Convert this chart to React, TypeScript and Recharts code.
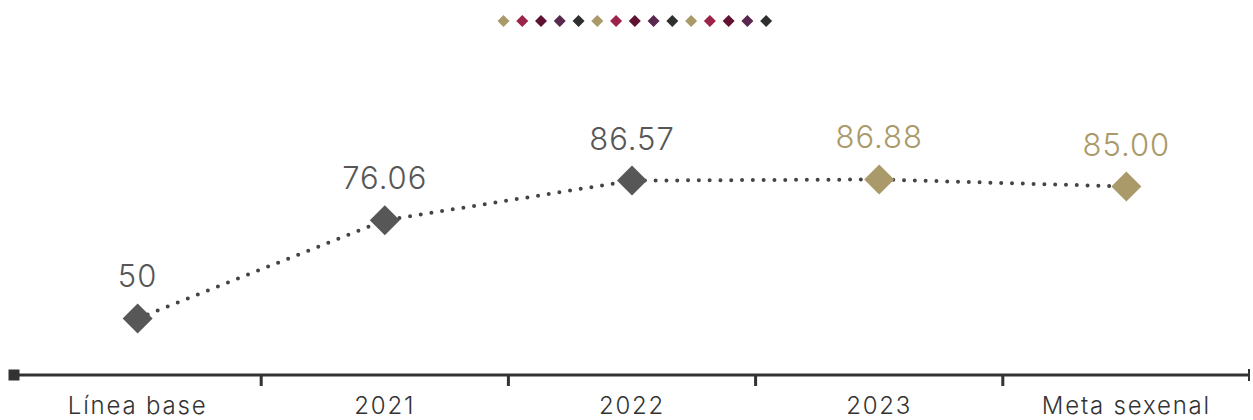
import React from 'react';
import { LineChart, Line, XAxis, YAxis, LabelList } from 'recharts';

const categories = ['Línea base', '2021', '2022', '2023', 'Meta sexenal'];
const values = [50, 76.06, 86.57, 86.88, 85.0];
const valueLabels = ['50', '76.06', '86.57', '86.88', '85.00'];
const statuses = ['historico', 'historico', 'historico', 'reciente', 'meta'];
const categoryTicks = [0, 1, 2, 3, 4];
const boundaryTicks = [-0.5, 0.5, 1.5, 2.5, 3.5, 4.5];
const decorColors = ['#AA9A69', '#9C2349', '#611232', '#58284F', '#2F2F2F'];
const decorRepeats = 3;

const GRAY = '#575757';
const GOLD = '#AA9A69';
const FONT = 'Inter, "Noto Sans", sans-serif';

const colorFor = (status: string) => (status === 'historico' ? GRAY : GOLD);

const data = categories.map((name, i) => ({
  idx: i,
  name,
  value: values[i],
  label: valueLabels[i],
  status: statuses[i],
}));

const allTicks = [...boundaryTicks, ...categoryTicks].sort((a, b) => a - b);

const AxisTick = (props: any) => {
  const { x, y, payload } = props;
  const v = payload.value as number;
  if (Number.isInteger(v)) {
    return (
      <text x={x} y={y + 39} textAnchor="middle" fontSize={24} fontFamily={FONT} fontWeight={300} letterSpacing={1.8} fill="#333">
        {categories[v]}
      </text>
    );
  }
  if (v === boundaryTicks[0]) {
    return <rect x={x - 5.5} y={y - 5.5} width={11} height={11} fill="#333" />;
  }
  if (v === boundaryTicks[boundaryTicks.length - 1]) {
    return <line x1={x - 1} y1={y - 6} x2={x - 1} y2={y + 6} stroke="#333" strokeWidth={2} />;
  }
  return <line x1={x} y1={y} x2={x} y2={y + 11} stroke="#333" strokeWidth={3} />;
};

const Diamond = (props: any) => {
  const { cx, cy, payload } = props;
  if (cx == null || cy == null) return null;
  const r = 15;
  return (
    <path
      d={`M${cx},${cy - r}L${cx + r},${cy}L${cx},${cy + r}L${cx - r},${cy}Z`}
      fill={colorFor(payload.status)}
    />
  );
};

const ValueLabel = (props: any) => {
  const { x, y, value, index } = props;
  return (
    <text x={x} y={y - 31} textAnchor="middle" fontSize={31} fontFamily={FONT} fontWeight={300} letterSpacing={1} fill={colorFor(statuses[index])}>
      {value}
    </text>
  );
};

export default function App() {
  const decor: string[] = [];
  for (let k = 0; k < decorRepeats; k++) decor.push(...decorColors);
  return (
    <div style={{ position: 'absolute', left: 0, top: 0, width: 1253, height: 420, background: '#fff' }}>
      <svg width={1253} height={40} style={{ position: 'absolute', left: 0, top: 0 }}>
        {decor.map((c, i) => {
          const cx = 503.5 + i * 18.76;
          const cy = 21;
          const r = 6;
          return <path key={i} d={`M${cx},${cy - r}L${cx + r},${cy}L${cx},${cy + r}L${cx - r},${cy}Z`} fill={c} />;
        })}
      </svg>
      <div style={{ position: 'absolute', left: 0, top: 0 }}>
        <LineChart width={1253} height={420} data={data} margin={{ top: 130, right: 3, bottom: 0, left: 14 }}>
          <XAxis
            dataKey="idx"
            type="number"
            domain={[-0.5, 4.5]}
            ticks={allTicks}
            interval={0}
            tick={<AxisTick />}
            tickLine={false}
            tickSize={0}
            tickMargin={0}
            height={45}
            axisLine={{ stroke: '#333', strokeWidth: 3 }}
            allowDecimals
          />
          <YAxis hide domain={[35, 100]} />
          <Line
            type="linear"
            dataKey="value"
            stroke="#444"
            strokeWidth={4}
            strokeDasharray="0 10.8"
            strokeLinecap="round"
            dot={<Diamond />}
            activeDot={false}
            isAnimationActive={false}
          >
            <LabelList dataKey="label" content={<ValueLabel />} />
          </Line>
        </LineChart>
      </div>
    </div>
  );
}
